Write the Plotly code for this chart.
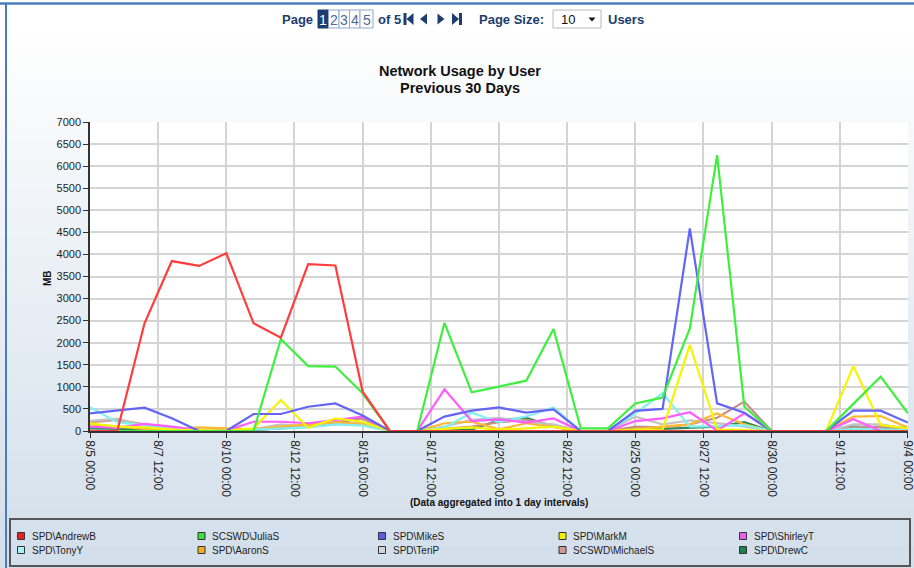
import plotly.graph_objects as go
import pandas as pd

# ---------------- data ----------------
days = pd.date_range("2013-08-05", periods=31, freq="D")

users = ["SPD\\AndrewB", "SCSWD\\JuliaS", "SPD\\MikeS", "SPD\\MarkM", "SPD\\ShirleyT",
         "SPD\\TonyY", "SPD\\AaronS", "SPD\\TeriP", "SCSWD\\MichaelS", "SPD\\DrewC"]

andrew_b = [0, 0, 2440, 3850, 3740, 4025, 2440, 2115, 3780, 3750, 890,
            0, 0, 0, 0, 0, 0, 0, 0, 0, 0, 0, 0, 0, 0, 0, 0, 0, 0, 0, 0]
julia_s = [0, 0, 0, 0, 0, 0, 0, 2085, 1470, 1460, 855, 0, 0, 2450, 877, 1005, 1140, 2310,
           60, 60, 625, 760, 2325, 6250, 550, 0, 0, 0, 615, 1230, 400]
mike_s = [400, 460, 530, 290, 0, 0, 385, 385, 550, 625, 350, 0, 0, 325, 460, 535, 415, 490,
          0, 0, 455, 500, 4590, 625, 415, 0, 0, 0, 460, 460, 190]
mark_m = [175, 100, 80, 30, 20, 10, 60, 700, 75, 285, 210, 0, 0, 50, 80, 30, 60, 100,
          0, 0, 30, 30, 1950, 40, 20, 0, 0, 0, 1470, 135, 60]
shirley_t = [100, 70, 160, 100, 20, 10, 210, 210, 175, 250, 325, 0, 0, 945, 225, 265, 190, 285,
             0, 0, 225, 285, 425, 10, 400, 0, 0, 0, 265, 0, 0]
tony_y = [540, 200, 120, 90, 20, 10, 30, 60, 80, 150, 120, 0, 0, 80, 415, 200, 330, 535,
          0, 0, 400, 855, 100, 110, 130, 0, 0, 0, 50, 40, 20]
aaron_s = [150, 100, 50, 40, 80, 60, 40, 100, 150, 200, 150, 0, 0, 175, 210, 40, 175, 80,
           0, 0, 40, 100, 150, 400, 150, 0, 0, 0, 325, 340, 75]
teri_p = [230, 280, 120, 60, 20, 10, 40, 150, 100, 150, 200, 0, 0, 100, 250, 300, 200, 150,
          0, 0, 325, 150, 240, 180, 100, 0, 0, 0, 150, 150, 50]
michael_s = [200, 250, 150, 80, 30, 20, 50, 100, 120, 200, 280, 0, 0, 50, 100, 200, 250, 120,
             0, 0, 100, 80, 150, 300, 665, 0, 0, 0, 80, 100, 30]
drew_c = [60, 50, 40, 30, 10, 10, 20, 60, 100, 180, 310, 0, 0, 20, 30, 250, 300, 100,
          0, 0, 60, 50, 80, 100, 200, 0, 0, 0, 100, 80, 30]

series = [andrew_b, julia_s, mike_s, mark_m, shirley_t, tony_y, aaron_s, teri_p, michael_s, drew_c]

line_colors = ["#ff3d3d", "#3ef03e", "#6464f5", "#f5f500", "#ff5cff",
               "#80f0f0", "#fdb833", "#c4c4c4", "#c89088", "#2e8b57"]
swatch_colors = ["#e02424", "#40e040", "#5c5ce6", "#f0f000", "#f060f0",
                 "#a8f4f4", "#f0b020", "#d4d4d4", "#d09890", "#208050"]

x_tickvals = ["2013-08-05 00:00", "2013-08-07 12:00", "2013-08-10 00:00", "2013-08-12 12:00",
              "2013-08-15 00:00", "2013-08-17 12:00", "2013-08-20 00:00", "2013-08-22 12:00",
              "2013-08-25 00:00", "2013-08-27 12:00", "2013-08-30 00:00", "2013-09-01 12:00",
              "2013-09-04 00:00"]
x_ticktext = ["8/5 00:00", "8/7 12:00", "8/10 00:00", "8/12 12:00", "8/15 00:00", "8/17 12:00",
              "8/20 00:00", "8/22 12:00", "8/25 00:00", "8/27 12:00", "8/30 00:00", "9/1 12:00",
              "9/4 00:00"]
y_tickvals = [0, 500, 1000, 1500, 2000, 2500, 3000, 3500, 4000, 4500, 5000, 5500, 6000, 6500, 7000]

# ---------------- geometry helpers ----------------
W, H = 914, 568
L, R, T, B = 90, 6, 122, 137
PW, PH = W - L - R, H - T - B


def X(px):
    return (px - L) / PW


def Y(py):
    return (H - B - py) / PH


NAVY = "#1c3d6e"
FONT = "Liberation Sans, Arial, sans-serif"

fig = go.Figure()

for name, vals, col in reversed(list(zip(users, series, line_colors))):
    fig.add_trace(go.Scatter(x=days, y=vals, mode="lines", name=name,
                             line=dict(color=col, width=2.2), showlegend=False))

shapes = []
# background gradient
N = 48
top_c, bot_c = (255, 255, 255), (211, 223, 235)
for i in range(N):
    y0 = i * H / N
    y1 = (i + 1) * H / N + 0.5
    t = max(0.0, min(1.0, ((y0 + y1) / 2 - 25) / (H - 40)))
    c = tuple(int(round(a + (b - a) * t)) for a, b in zip(top_c, bot_c))
    shapes.append(dict(type="rect", xref="paper", yref="paper", layer="below",
                       x0=X(0), x1=X(W), y0=Y(y1), y1=Y(y0),
                       fillcolor="rgb(%d,%d,%d)" % c, line=dict(width=0)))
# white plot area
shapes.append(dict(type="rect", xref="paper", yref="paper", layer="below",
                   x0=0, x1=1, y0=0, y1=1, fillcolor="white", line=dict(width=0)))
# frame borders
shapes.append(dict(type="line", xref="paper", yref="paper", x0=X(0), x1=X(W), y0=Y(3.5), y1=Y(3.5),
                   line=dict(color="#4a7ebb", width=2.5)))
shapes.append(dict(type="line", xref="paper", yref="paper", x0=X(6), x1=X(6), y0=Y(3), y1=Y(H),
                   line=dict(color="#4a7ebb", width=2)))
# legend box
shapes.append(dict(type="rect", xref="paper", yref="paper", x0=X(10), x1=X(910), y0=Y(566), y1=Y(519),
                   line=dict(color="#555555", width=2), fillcolor="rgba(0,0,0,0)"))

# header: page boxes
shapes.append(dict(type="rect", xref="paper", yref="paper", x0=X(318), x1=X(328.5), y0=Y(28), y1=Y(10),
                   fillcolor=NAVY, line=dict(color=NAVY, width=1)))
for a, b in [(328.5, 339), (339, 349.5), (349.5, 360), (360, 373)]:
    shapes.append(dict(type="rect", xref="paper", yref="paper", x0=X(a), x1=X(b), y0=Y(28), y1=Y(10),
                       fillcolor="white", line=dict(color="#8fa8cc", width=1)))
# select box
shapes.append(dict(type="rect", xref="paper", yref="paper", x0=X(553), x1=X(601), y0=Y(28), y1=Y(10),
                   fillcolor="white", line=dict(color="#b8b8b8", width=1)))


def poly(pts, color):
    d = "M " + " L ".join("%f,%f" % (X(px), Y(py)) for px, py in pts) + " Z"
    return dict(type="path", xref="paper", yref="paper", path=d, fillcolor=color, line=dict(width=0))


# nav icons
shapes.append(poly([(403.5, 13), (406.5, 13), (406.5, 25), (403.5, 25)], NAVY))
shapes.append(poly([(413.5, 13), (413.5, 25), (406.5, 19)], NAVY))
shapes.append(poly([(427, 13.5), (427, 24.5), (420, 19)], NAVY))
shapes.append(poly([(437.5, 13.5), (437.5, 24.5), (444.5, 19)], NAVY))
shapes.append(poly([(452, 13), (452, 25), (459, 19)], NAVY))
shapes.append(poly([(459, 13), (462, 13), (462, 25), (459, 25)], NAVY))
# select arrow
shapes.append(poly([(588.5, 17.5), (595.5, 17.5), (592, 21.5)], "#111111"))

ann = []


def txt(text, px, py, size, color="#111111", bold=False, xanchor="center", angle=0, family=FONT):
    ann.append(dict(text=("<b>%s</b>" % text) if bold else text, x=X(px), y=Y(py),
                    xref="paper", yref="paper", xanchor=xanchor, yanchor="middle",
                    showarrow=False, textangle=angle,
                    font=dict(size=size, color=color, family=family)))


# header texts
txt("Page", 297, 19.5, 13, NAVY, bold=True)
txt("1", 323.3, 19.5, 14, "white")
for d, cx in zip(["2", "3", "4", "5"], [333.8, 344.3, 354.8, 366.5]):
    txt(d, cx, 19.5, 14, "#4a6a98")
txt("of 5", 389.5, 19.5, 13, NAVY, bold=True)
txt("Page Size:", 511.5, 19.5, 13, NAVY, bold=True)
txt("10", 567.5, 19.5, 13, "#111111")
txt("Users", 626, 19.5, 13, NAVY, bold=True)

# titles
txt("Network Usage by User", 459.5, 71, 14.5, "#111111", bold=True)
txt("Previous 30 Days", 459.5, 88, 14.5, "#111111", bold=True)
txt("MB", 47, 278, 10, "#111111", bold=True, angle=-90)
txt("(Data aggregated into 1 day intervals)", 499, 502, 10, "#111111", bold=True)

# legend
for i, (name, col) in enumerate(zip(users, swatch_colors)):
    r, c = divmod(i, 5)
    cx = 17.5 + 180.5 * c
    cy = 536 + 14 * r
    shapes.append(dict(type="rect", xref="paper", yref="paper", x0=X(cx), x1=X(cx + 7),
                       y0=Y(cy + 3.5), y1=Y(cy - 3.5), fillcolor=col,
                       line=dict(color="#333333", width=1)))
    txt(name, cx + 12, cy, 10, "#222222", xanchor="left")

fig.update_layout(
    width=W, height=H,
    margin=dict(l=L, r=R, t=T, b=B, autoexpand=False),
    paper_bgcolor="white", plot_bgcolor="white",
    showlegend=False,
    font=dict(family=FONT, color="#222222"),
    shapes=shapes, annotations=ann,
    xaxis=dict(type="date", range=["2013-08-05", "2013-09-04 00:03"],
               tickvals=x_tickvals, ticktext=x_ticktext, tickangle=90,
               ticklabeloverflow="allow", automargin=False,
               tickfont=dict(size=12, color="#222222"),
               showgrid=True, gridcolor="#d4d4d4", gridwidth=2,
               ticks="outside", ticklen=5, tickcolor="#333333", tickwidth=1,
               showline=True, linecolor="#333333", linewidth=1.5, zeroline=False),
    yaxis=dict(range=[0, 7000], tickvals=y_tickvals, automargin=False,
               tickfont=dict(size=11, color="#222222"),
               showgrid=True, gridcolor="#d4d4d4", gridwidth=2,
               ticks="outside", ticklen=5, tickcolor="#333333", tickwidth=1,
               showline=True, linecolor="#333333", linewidth=1.5, zeroline=False),
)

post = ("document.documentElement.style.margin='0';"
        "document.documentElement.style.overflow='hidden';"
        "document.body.style.margin='0';"
        "document.body.style.overflow='hidden';")

fig.write_html("out.html", config={"displayModeBar": False}, post_script=post)
